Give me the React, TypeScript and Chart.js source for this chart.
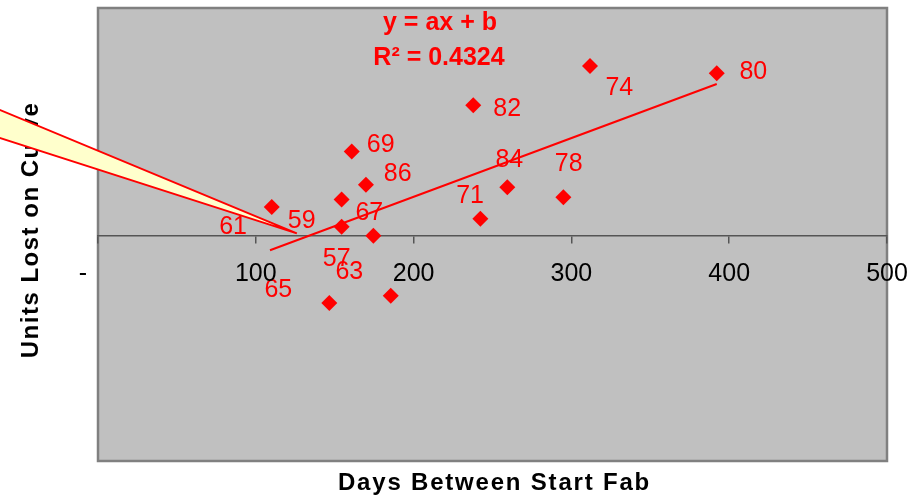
import React, { useEffect, useRef } from "react";
import { Chart, registerables } from "chart.js";

Chart.register(...registerables);

// ---- data ----
const daysBetween = [110.1, 154.4, 154.4, 174.5, 146.6, 185.5, 160.8, 169.8, 237.8, 242.3, 259.4, 294.9, 311.8, 392.1];
const unitsLost = [1.26, 1.59, 0.39, 0.0, -2.96, -2.64, 3.7, 2.24, 5.73, 0.74, 2.13, 1.69, 7.45, 7.13];
const pointLabels = ["61", "59", "57", "67", "65", "63", "69", "86", "82", "71", "84", "78", "74", "80"];
const trendX = [109, 392.1];
const trendY = [-0.64, 6.66];
const xTickValues = [0, 100, 200, 300, 400, 500];
const xTickLabels = ["-", "100", "200", "300", "400", "500"];
const equationText = "y = ax + b";
const r2Text = "R\u00B2 = 0.4324";
const xTitle = "Days Between Start Fab";
const yTitle = "Units Lost on Curve";
const calloutTip = { x: 126, y: 0.1 };

// ---- styling (label offsets in px) ----
const labelOffsets: [number, number][] = [
  [-38.7, 20.3], [-40, 21.7], [-5, 32], [-4, -22.7], [-51, -13], [-41.4, -23.3],
  [29, -6.7], [31.7, -10.6], [34, 4], [-10.3, -22.7], [2, -27], [5.4, -32.7],
  [29.3, 21.7], [36.6, -1],
];

const FONT = "'Liberation Sans', Arial, sans-serif";

const decorPlugin = {
  id: "decor",
  beforeDraw(chart: any) {
    const { ctx, chartArea: a } = chart;
    ctx.save();
    ctx.fillStyle = "#C0C0C0";
    ctx.fillRect(a.left, a.top, a.right - a.left, a.bottom - a.top);
    ctx.strokeStyle = "#808080";
    ctx.lineWidth = 2.5;
    ctx.strokeRect(a.left, a.top, a.right - a.left, a.bottom - a.top);
    ctx.restore();
  },
  afterDatasetsDraw(chart: any) {
    const { ctx } = chart;
    const meta = chart.getDatasetMeta(0);
    ctx.save();
    ctx.fillStyle = "#FF0000";
    ctx.font = `25px ${FONT}`;
    ctx.textAlign = "center";
    ctx.textBaseline = "middle";
    meta.data.forEach((el: any, i: number) => {
      const [dx, dy] = labelOffsets[i];
      ctx.fillText(pointLabels[i], el.x + dx, el.y + dy);
    });
    ctx.restore();
  },
  afterDraw(chart: any) {
    const { ctx, chartArea: a } = chart;
    const xs = chart.scales.x;
    const ys = chart.scales.y;
    const zeroY = ys.getPixelForValue(0);
    ctx.save();
    // x tick labels
    ctx.fillStyle = "#000";
    ctx.font = `25px ${FONT}`;
    ctx.textAlign = "center";
    ctx.textBaseline = "middle";
    xTickValues.forEach((v, i) => {
      const px = xs.getPixelForValue(v);
      const lx = v === 0 ? px - 15 : px;
      ctx.fillText(xTickLabels[i], lx, zeroY + 38);
    });
    // equation
    ctx.fillStyle = "#FF0000";
    ctx.font = `bold 25px ${FONT}`;
    ctx.fillText(equationText, 440, 23);
    ctx.fillText(r2Text, 439, 58);
    // axis titles
    ctx.fillStyle = "#000";
    ctx.font = `bold 24px ${FONT}`;
    (ctx as any).letterSpacing = "1.8px";
    ctx.fillText(xTitle, (a.left + a.right) / 2 + 2, 483);
    (ctx as any).letterSpacing = "1.5px";
    ctx.translate(31, 230);
    ctx.rotate(-Math.PI / 2);
    ctx.fillText(yTitle, 0, 0);
    ctx.restore();

    // callout wedge
    const tx = xs.getPixelForValue(calloutTip.x);
    const ty = ys.getPixelForValue(calloutTip.y);
    ctx.save();
    const upY0 = 110;
    const loY0 = 138;
    const ext = -20;
    const upYe = upY0 + ((ty - upY0) / tx) * ext;
    const loYe = loY0 + ((ty - loY0) / tx) * ext;
    ctx.beginPath();
    ctx.moveTo(ext, upYe);
    ctx.lineTo(tx, ty);
    ctx.lineTo(ext, loYe);
    ctx.closePath();
    ctx.fillStyle = "#FFFFCC";
    ctx.fill();
    ctx.strokeStyle = "#FF0000";
    ctx.lineWidth = 2;
    ctx.beginPath();
    ctx.moveTo(ext, upYe);
    ctx.lineTo(tx, ty);
    ctx.lineTo(ext, loYe);
    ctx.stroke();
    ctx.restore();
  },
};

export default function App() {
  const ref = useRef<HTMLCanvasElement>(null);
  useEffect(() => {
    if (!ref.current) return;
    const chart = new Chart(ref.current, {
      type: "scatter",
      data: {
        datasets: [
          {
            label: "Units",
            data: daysBetween.map((x, i) => ({ x, y: unitsLost[i] })),
            pointStyle: "rectRot",
            pointRadius: 8,
            pointBackgroundColor: "#FF0000",
            pointBorderWidth: 0,
            borderColor: "#FF0000",
            showLine: false,
          },
          {
            type: "line",
            label: "Trend",
            data: trendX.map((x, i) => ({ x, y: trendY[i] })),
            borderColor: "#FF0000",
            borderWidth: 2,
            pointRadius: 0,
            fill: false,
          },
        ],
      },
      options: {
        animation: false,
        responsive: false,
        layout: { padding: { left: 98, right: 37, top: 6, bottom: 37 } },
        plugins: {
          legend: { display: false },
          tooltip: { enabled: false },
          title: { display: false },
        },
        scales: {
          x: {
            type: "linear",
            min: 0,
            max: 500,
            position: { y: 0 },
            ticks: { stepSize: 100, display: false },
            grid: { drawOnChartArea: false, drawTicks: true, tickLength: 7, color: "#555", lineWidth: 1.5 },
            border: { display: true, color: "#555", width: 1.5 },
          },
          y: { type: "linear", min: -9.9, max: 10, display: false },
        },
      },
      plugins: [decorPlugin],
    } as any);
    return () => chart.destroy();
  }, []);
  return (
    <div style={{ position: "fixed", left: 0, top: 0, width: 924, height: 498, background: "#fff" }}>
      <canvas ref={ref} width={924} height={498} style={{ display: "block" }} />
    </div>
  );
}
